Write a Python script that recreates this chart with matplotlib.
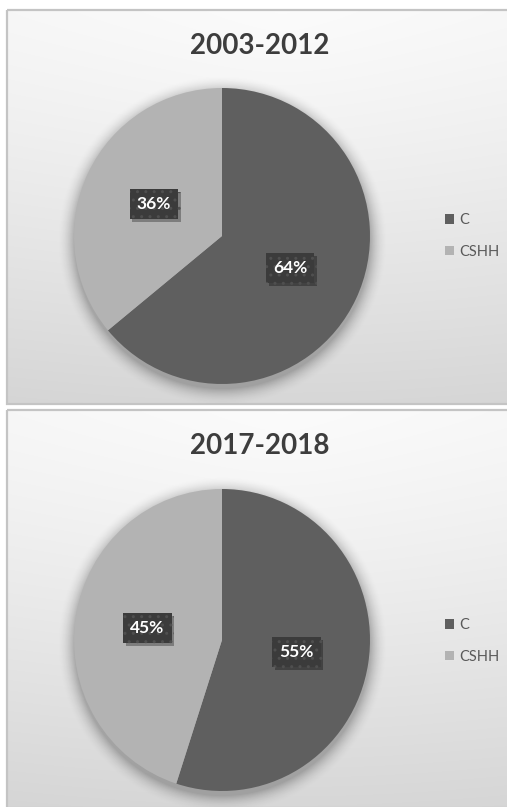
import numpy as np
import matplotlib
matplotlib.use("Agg")
import matplotlib.pyplot as plt
from matplotlib.patches import Rectangle
import matplotlib.patheffects as pe

plt.rcParams['font.family'] = ['Lato', 'DejaVu Sans']

# ---- data ----
titles = ["2003-2012", "2017-2018"]
categories = ["C", "CSHH"]
shares_2003_2012 = [64, 36]
shares_2017_2018 = [55, 45]
colors = ["#5f5f5f", "#b3b3b3"]

W, H = 507, 807
DPI = 100
fig = plt.figure(figsize=(W / DPI, H / DPI), dpi=DPI)
fig.patch.set_facecolor("white")

# background axes in pixel coordinates
bg = fig.add_axes([0, 0, 1, 1])
bg.set_xlim(0, W)
bg.set_ylim(H, 0)
bg.axis("off")

panels = [
    dict(top=10, bottom=404, title_y=46, cx=222, cy=236, rx=148, ry=148, leg_y=236,
         title=titles[0], vals=shares_2003_2012),
    dict(top=410, bottom=808, title_y=446, cx=222, cy=640, rx=148, ry=151, leg_y=641,
         title=titles[1], vals=shares_2017_2018),
]

left = 7
for p in panels:
    top, bottom = p["top"], p["bottom"]
    h = bottom - top
    w = W - left
    yy, xx = np.mgrid[0:h, 0:w]
    t = yy / h
    dx = (xx - w * 0.55) / w
    dy = yy / h
    g = 0.985 - 0.125 * (t ** 1.2) - 0.03 * np.sqrt(dx ** 2 + (dy * 0.6) ** 2)
    img = np.dstack([g, g, g])
    bg.imshow(img, extent=(left, W, bottom, top), interpolation="bilinear",
              zorder=1, aspect="auto")
    bg.add_patch(Rectangle((left, top), W - left + 5, bottom - top, fill=False,
                           edgecolor="#c4c4c4", linewidth=1.6, zorder=2))
    # soft shadow behind pie
    cx, cy, rx, ry = p["cx"], p["cy"], p["rx"], p["ry"]
    pad = 30
    sy, sx = np.mgrid[cy - ry - pad:cy + ry + pad, cx - rx - pad:cx + rx + pad]
    d = np.sqrt(((sx - cx) / rx) ** 2 + ((sy - (cy + 4)) / ry) ** 2) * rx
    a = 0.26 * np.clip(1 - (d - rx) / 18.0, 0, 1) ** 2
    sh = np.zeros(d.shape + (4,))
    sh[..., 3] = a
    bg.imshow(sh, extent=(cx - rx - pad, cx + rx + pad, cy + ry + pad, cy - ry - pad),
              interpolation="bilinear", zorder=3, aspect="auto")
    bg.text(260, p["title_y"], p["title"], ha="center", va="center",
            fontsize=20, fontweight="bold", color="#3d3d3d", zorder=5)

for p in panels:
    cx, cy, rx, ry = p["cx"], p["cy"], p["rx"], p["ry"]
    ax = fig.add_axes([(cx - rx) / W, 1 - (cy + ry) / H, 2 * rx / W, 2 * ry / H])
    ax.patch.set_alpha(0)
    wedges, _, autotexts = ax.pie(
        p["vals"], colors=colors, startangle=90, counterclock=False,
        autopct="%1.0f%%", pctdistance=0.51,
        wedgeprops=dict(linewidth=0),
        textprops=dict(color="white", fontsize=12.5, fontweight="bold"))
    ax.set_aspect("auto")
    ax.set_xlim(-1, 1)
    ax.set_ylim(-1, 1)
    for w_ in wedges:
        w_.set_clip_on(False)
    for at in autotexts:
        at.set_zorder(5)
        at.set_bbox(dict(boxstyle="square,pad=0.4", facecolor="#3b3b3b",
                         edgecolor="#4f4f4f", hatch="..", linewidth=0))
        at.get_bbox_patch().set_path_effects(
            [pe.SimplePatchShadow(offset=(2, -2), shadow_rgbFace="black", alpha=0.3),
             pe.Normal()])
    fig.legend(wedges, categories, loc="center left",
               bbox_to_anchor=(445 / W, 1 - p["leg_y"] / H),
               frameon=False, fontsize=10.5, handlelength=0.6, handleheight=0.6,
               handletextpad=0.4, labelspacing=1.2, borderpad=0,
               borderaxespad=0, labelcolor="#595959")

fig.savefig("out.png", dpi=DPI)
